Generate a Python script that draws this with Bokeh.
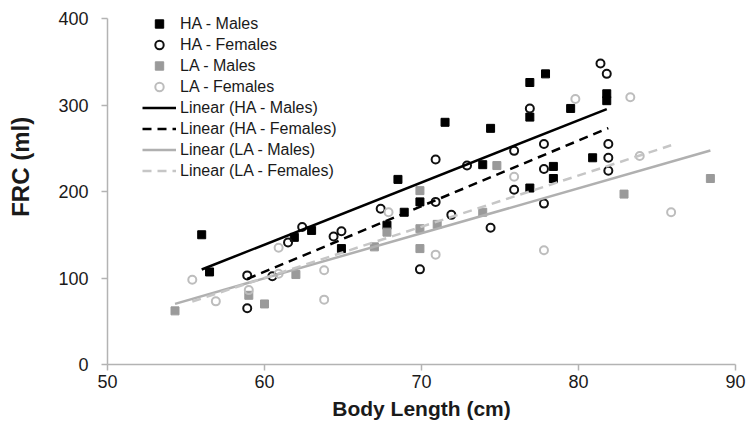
import numpy as np
from bokeh.plotting import figure
from bokeh.models import (Range1d, FixedTicker, Legend, LegendItem, LinearAxis)
from bokeh.embed import file_html
from bokeh.resources import INLINE

# ---- data ----
ha_m_x = [56.0, 56.5, 61.9, 63.0, 64.9, 67.8, 68.5, 68.9, 69.9, 71.5, 73.9, 74.4,
          76.9, 76.9, 76.9, 77.9, 78.4, 78.4, 79.5, 80.9, 81.8, 81.8]
ha_m_y = [150, 107, 147, 155, 134, 161, 214, 176, 188, 280, 231, 273,
          326, 286, 204, 336, 229, 215, 296, 239, 313, 305]

ha_f_x = [58.9, 58.9, 60.5, 61.5, 62.4, 64.4, 64.9, 67.4, 69.9, 70.9, 70.9, 71.9,
          72.9, 74.4, 75.9, 75.9, 76.9, 77.8, 77.8, 77.8, 81.4, 81.8, 81.9, 81.9, 81.9]
ha_f_y = [103, 65, 102, 141, 159, 148, 154, 180, 110, 237, 188, 173,
          230, 158, 247, 202, 296, 255, 226, 186, 348, 336, 255, 239, 224]

la_m_x = [54.3, 59.0, 60.0, 62.0, 67.0, 67.8, 69.9, 69.9, 69.9, 71.0, 73.9, 74.8, 82.9, 88.4]
la_m_y = [62, 80, 70, 104, 136, 153, 201, 157, 134, 162, 176, 230, 197, 215]

la_f_x = [55.4, 56.9, 59.0, 60.9, 60.9, 63.8, 63.8, 67.9, 70.9, 75.9, 77.8, 79.8, 83.3, 83.9, 85.9]
la_f_y = [98, 73, 86, 135, 105, 109, 75, 176, 127, 217, 132, 307, 309, 241, 176]

x_ticks = [50, 60, 70, 80, 90]
y_ticks = [0, 100, 200, 300, 400]

FONT = "Liberation Sans"
AXIS_COL = "#b3b3b3"
TXT = "#1a1a1a"

# the y range runs a little above 400 so the legend (which sits above the
# top tick in the reference) is not clipped; the axis itself stops at 400
p = figure(width=750, height=439, output_backend="svg", toolbar_location=None,
           x_range=Range1d(50, 90), y_range=Range1d(0, 418.5),
           min_border_left=107, min_border_right=15, min_border_top=2, min_border_bottom=75)
p.outline_line_color = None
p.grid.visible = False
p.background_fill_color = "white"

for ax in (p.xaxis[0], p.yaxis[0]):
    ax.axis_line_color = AXIS_COL
    ax.axis_line_width = 1.5
    ax.major_tick_line_color = AXIS_COL
    ax.major_tick_line_width = 1.5
    ax.major_tick_in = 0
    ax.major_tick_out = 6
    ax.minor_tick_line_color = None
    ax.major_label_text_font = FONT
    ax.major_label_text_font_size = "18px"
    ax.major_label_text_color = TXT

p.yaxis.bounds = (0, 400)
p.xaxis.ticker = FixedTicker(ticks=x_ticks)
p.yaxis.ticker = FixedTicker(ticks=y_ticks)
p.xaxis.major_label_standoff = 4
p.yaxis.major_label_standoff = 13
p.xaxis.axis_label = "Body Length (cm)"
p.xaxis.axis_label_text_font = FONT
p.xaxis.axis_label_text_font_style = "bold"
p.xaxis.axis_label_text_font_size = "21px"
p.xaxis.axis_label_text_color = TXT
p.xaxis.axis_label_standoff = 6

# y-axis title: carried by a bare extra axis placed outside the tick labels;
# leading no-break spaces lift it a little above the middle, as in the reference
title_axis = LinearAxis(ticker=FixedTicker(ticks=[]), bounds=(0, 400),
                        axis_line_color=None, major_tick_line_color=None,
                        minor_tick_line_color=None,
                        axis_label="\u00a0" * 5 + "FRC (ml)", axis_label_standoff=22,
                        axis_label_text_font=FONT, axis_label_text_font_style="bold",
                        axis_label_text_font_size="24px", axis_label_text_color=TXT)
p.add_layout(title_axis, "left")

# scatter series
r1 = p.scatter(ha_m_x, ha_m_y, marker="square", size=8, fill_color="black", line_color="black")
r2 = p.scatter(ha_f_x, ha_f_y, marker="circle", size=8, fill_color=None, line_color="#111111", line_width=2)
r3 = p.scatter(la_m_x, la_m_y, marker="square", size=8, fill_color="#9a9a9a", line_color="#9a9a9a")
r4 = p.scatter(la_f_x, la_f_y, marker="circle", size=8, fill_color=None, line_color="#bdbdbd", line_width=2)

# linear trend lines fitted to each series
def trend(xs, ys):
    k, b = np.polyfit(xs, ys, 1)
    x0, x1 = min(xs), max(xs)
    return [x0, x1], [k * x0 + b, k * x1 + b]

tx, ty = trend(ha_m_x, ha_m_y)
l1 = p.line(tx, ty, line_color="black", line_width=2.5)
tx, ty = trend(ha_f_x, ha_f_y)
l2 = p.line(tx, ty, line_color="black", line_width=2.5, line_dash="9 6")
tx, ty = trend(la_m_x, la_m_y)
l3 = p.line(tx, ty, line_color="#b0b0b0", line_width=2.5)
tx, ty = trend(la_f_x, la_f_y)
l4 = p.line(tx, ty, line_color="#c6c6c6", line_width=2.5, line_dash="9 6")

legend = Legend(items=[
    LegendItem(label="HA - Males", renderers=[r1]),
    LegendItem(label="HA - Females", renderers=[r2]),
    LegendItem(label="LA - Males", renderers=[r3]),
    LegendItem(label="LA - Females", renderers=[r4]),
    LegendItem(label="Linear (HA - Males)", renderers=[l1]),
    LegendItem(label="Linear (HA - Females)", renderers=[l2]),
    LegendItem(label="Linear (LA - Males)", renderers=[l3]),
    LegendItem(label="Linear (LA - Females)", renderers=[l4]),
], location=(35, 183))
legend.background_fill_alpha = 0
legend.border_line_color = None
legend.padding = 0
legend.margin = 0
legend.spacing = 0
legend.glyph_width = 34
legend.glyph_height = 21
legend.label_height = 21
legend.label_standoff = 4
legend.label_text_font = FONT
legend.label_text_font_size = "16px"
legend.label_text_color = TXT
p.add_layout(legend)

open("out.html", "w").write(file_html(p, INLINE))
